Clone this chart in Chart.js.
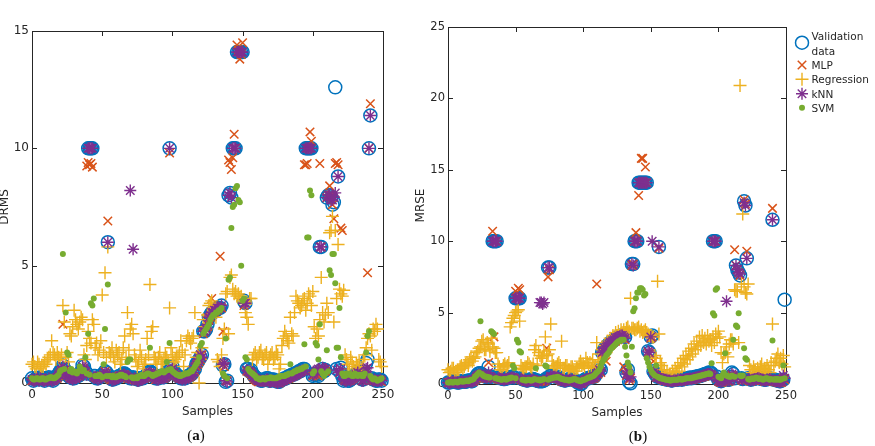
<!DOCTYPE html>
<html>
<head>
<meta charset="utf-8">
<script src="https://cdn.jsdelivr.net/npm/chart.js@4.4.0/dist/chart.umd.min.js"></script>
<style>
  html, body { margin: 0; padding: 0; background: #fff; }
  body { width: 875px; height: 446px; overflow: hidden; position: relative; font-family: 'DejaVu Sans', sans-serif; }
  #chartA, #chartB { position: absolute; top: 0; }
  #chartA { left: 0; }
  #chartB { left: 400px; }
  .panel-label { position: absolute; font-family: 'Liberation Serif', serif; font-size: 15px; color: #111; transform: translate(-50%, -50%); line-height: 1; }
  #legend { position: absolute; left: 790px; top: 0; width: 79px; height: 120px; overflow: hidden; }
  #legendIcons { position: absolute; left: 0; top: 0; }
  .legend-text { position: absolute; left: 21.5px; font-size: 10.5px; color: #262626; white-space: nowrap; transform: translateY(-50%); line-height: 1; }
</style>
</head>
<body>
<canvas id="chartA" width="400" height="446"></canvas>
<canvas id="chartB" width="475" height="446"></canvas>
<div class="panel-label" style="left:196px; top:435px;">(<b>a</b>)</div>
<div class="panel-label" style="left:638px; top:436px;">(<b>b</b>)</div>
<div id="legend"><canvas id="legendIcons" width="24" height="120"></canvas></div>
<script>
// sample index on the x axis
const samples = Array.from({ length: 250 }, (_, i) => i);
const xTicks = [0, 50, 100, 150, 200, 250];
const yTicksA = [0, 5, 10, 15];
const yTicksB = [0, 5, 10, 15, 20, 25];

const seriesNames = ['Validation data', 'MLP', 'Regression', 'kNN', 'SVM'];
const seriesColors = ['#0072BD', '#D95319', '#EDB120', '#7E2F8E', '#77AC30'];

// ---- (a) DRMS, one row = 10 samples ----
const validationA = [
  0.2, 0.1, 0.15, 0.2, 0.2, 0.15, 0.25, 0.2, 0.15, 0.1,
  0.2, 0.15, 0.25, 0.2, 0.15, 0.1, 0.2, 0.25, 0.3, 0.4,
  0.5, 0.6, 0.75, 0.6, 0.5, 0.4, 0.3, 0.25, 0.25, 0.2,
  0.2, 0.25, 0.3, 0.3, 0.35, 0.5, 0.75, 0.7, 0.5, 0.4,
  10, 10, 10, 10, 0.3, 0.3, 0.2, 0.2, 0.25, 0.3,
  0.3, 0.4, 0.5, 0.45, 6.0, 0.3, 0.2, 0.15, 0.15, 0.2,
  0.2, 0.25, 0.3, 0.3, 0.35, 0.4, 0.4, 0.35, 0.3, 0.25,
  0.2, 0.2, 0.25, 0.2, 0.2, 0.15, 0.15, 0.2, 0.2, 0.2,
  0.25, 0.3, 0.35, 0.45, 0.5, 0.45, 0.4, 0.3, 0.2, 0.2,
  0.2, 0.25, 0.3, 0.25, 0.25, 0.3, 0.35, 0.5, 10, 0.6,
  0.7, 0.5, 0.4, 0.35, 0.3, 0.25, 0.2, 0.2, 0.2, 0.2,
  0.25, 0.3, 0.3, 0.35, 0.4, 0.5, 0.6, 0.8, 0.9, 1.0,
  1.1, 1.2, 2.2, 2.2, 2.3, 2.5, 2.8, 2.9, 3.0, 3.0,
  3.1, 3.1, 3.2, 3.2, 3.2, 3.3, 0.75, 0.8, 0.05, 0.1,
  8.0, 8.1, 7.9, 10, 10, 10, 14.1, 14.1, 14.1, 14.1,
  14.1, 3.5, 3.4, 0.6, 0.6, 0.5, 0.55, 0.4, 0.3, 0.25,
  0.2, 0.15, 0.15, 0.1, 0.1, 0.15, 0.15, 0.2, 0.2, 0.1,
  0.1, 0.15, 0.15, 0.1, 0.1, 0.05, 0.05, 0.1, 0.15, 0.15,
  0.2, 0.2, 0.25, 0.3, 0.3, 0.35, 0.35, 0.4, 0.4, 0.45,
  0.5, 0.5, 0.55, 0.6, 0.6, 10, 10, 10, 10, 10,
  0.3, 0.35, 0.4, 0.35, 0.3, 5.8, 5.8, 0.6, 0.5, 0.55,
  7.9, 8.0, 8.0, 7.9, 7.6, 7.7, 12.6, 0.6, 8.8, 0.5,
  0.65, 0.3, 0.1, 0.15, 0.15, 0.1, 0.1, 0.15, 0.2, 0.25,
  0.3, 0.4, 0.5, 0.4, 0.2, 0.15, 0.15, 0.3, 0.85, 1.0,
  10, 11.4, 0.2, 0.15, 0.15, 0.1, 0.1, 0.15, 0.15, 0.1
];
const mlpA = [
  0.1, 0.1, 0.15, 0.1, 0.1, 0.15, 0.2, 0.1, 0.15, 0.1,
  0.1, 0.15, 0.2, 0.15, 0.1, 0.1, 0.15, 0.2, 0.2, 0.3,
  0.4, 0.5, 2.5, 0.5, 0.5, 0.35, 0.35, 0.25, 0.2, 0.2,
  0.25, 0.2, 0.3, 0.3, 0.3, 0.4, 0.6, 0.55, 0.4, 9.25,
  9.4, 9.3, 9.35, 9.2, 0.3, 0.25, 0.2, 0.25, 0.3, 0.25,
  0.25, 0.35, 0.5, 0.4, 6.9, 0.2, 0.15, 0.15, 0.15, 0.2,
  0.25, 0.25, 0.3, 0.3, 0.3, 0.35, 0.35, 0.3, 0.2, 0.2,
  0.2, 0.2, 0.2, 0.15, 0.15, 0.1, 0.1, 0.15, 0.2, 0.2,
  0.2, 0.25, 0.3, 0.35, 0.4, 0.35, 0.3, 0.25, 0.15, 0.15,
  0.2, 0.2, 0.25, 0.2, 0.2, 0.25, 0.3, 0.4, 9.8, 0.5,
  0.6, 0.45, 0.35, 0.3, 0.25, 0.2, 0.2, 0.2, 0.2, 0.2,
  0.2, 0.25, 0.25, 0.3, 0.35, 0.45, 0.5, 0.7, 0.8, 0.9,
  1.0, 1.2, 2.1, 2.2, 2.3, 2.4, 2.7, 2.8, 3.6, 3.0,
  3.0, 3.1, 3.1, 3.2, 5.4, 3.2, 2.2, 0.7, 0.1, 0.1,
  9.5, 9.4, 9.1, 9.6, 10.6, 10, 14.4, 14.2, 13.8, 14.0,
  14.5, 3.3, 3.4, 0.5, 0.5, 0.45, 0.4, 0.3, 0.2, 0.15,
  0.1, 0.05, 0.05, 0.1, 0.1, 0.05, 0.1, 0.1, 0.05, 0.05,
  0.05, 0.05, 0.1, 0.05, 0.05, 0.05, 0.0, 0.05, 0.1, 0.1,
  0.15, 0.15, 0.2, 0.2, 0.25, 0.3, 0.3, 0.35, 0.35, 0.4,
  0.45, 0.5, 0.5, 0.55, 9.3, 9.3, 9.35, 10.0, 10.7, 10.3,
  0.3, 0.35, 0.4, 0.35, 0.3, 9.35, 5.8, 0.6, 0.5, 0.5,
  7.9, 8.0, 8.4, 8.0, 7.6, 7.0, 9.35, 9.4, 9.3, 0.45,
  6.6, 6.5, 0.15, 0.1, 0.15, 0.1, 0.1, 0.15, 0.2, 0.25,
  0.3, 0.35, 0.4, 0.35, 0.2, 0.1, 0.1, 0.2, 0.6, 4.7,
  10, 11.9, 0.15, 0.1, 0.1, 0.1, 0.05, 0.1, 0.1, 0.05
];
const regressionA = [
  0.8, 0.9, 0.7, 0.6, 0.9, 0.8, 0.6, 0.7, 0.7, 0.9,
  0.8, 1.0, 1.1, 1.2, 1.8, 1.3, 1.2, 1.0, 1.3, 1.1,
  1.0, 1.2, 3.3, 2.6, 1.1, 1.3, 0.9, 2.1, 2.0, 2.4,
  3.1, 2.7, 2.5, 2.3, 2.6, 2.8, 2.7, 1.2, 1.0, 1.6,
  2.2, 1.9, 1.7, 2.7, 2.5, 1.5, 1.7, 1.2, 1.4, 1.8,
  3.75, 1.3, 4.7, 1.1, 5.8, 1.3, 1.2, 1.5, 1.1, 0.9,
  1.4, 1.2, 1.3, 0.8, 1.0, 1.5, 2.0, 1.1, 3.0, 1.4,
  2.3, 2.5, 2.1, 1.2, 1.0, 0.7, 0.9, 1.4, 1.1, 0.6,
  0.8, 1.0, 1.9, 1.2, 4.2, 2.2, 2.4, 1.1, 1.0, 0.8,
  1.1, 1.3, 0.9, 0.8, 1.0, 1.2, 1.1, 0.9, 3.2, 1.5,
  1.2, 0.9, 1.0, 1.1, 1.1, 1.3, 1.8, 1.4, 0.7, 1.2,
  1.8, 2.0, 1.9, 1.7, 1.9, 2.0, 3.0, 1.1, 1.3, 0.0,
  1.0, 1.5, 2.7, 2.4, 2.3, 2.9, 3.3, 3.4, 3.5, 3.2,
  3.0, 2.8, 1.0, 0.9, 0.7, 1.2, 1.9, 2.3, 3.8, 3.9,
  2.1, 4.5, 4.6, 4.0, 3.8, 3.9, 3.7, 3.8, 3.6, 3.7,
  3.5, 3.4, 3.0, 2.8, 2.5, 3.6, 3.6, 1.0, 1.2, 1.3,
  1.0, 1.1, 1.3, 1.4, 1.1, 1.0, 1.2, 1.3, 0.8, 1.1,
  1.2, 1.3, 1.0, 1.1, 1.3, 1.2, 0.6, 0.8, 1.6, 1.9,
  2.2, 2.0, 1.8, 1.7, 2.8, 2.1, 2.0, 3.0, 3.7, 3.5,
  3.4, 3.2, 3.3, 3.5, 3.6, 3.1, 3.4, 3.8, 3.7, 3.3,
  3.9, 2.4, 1.9, 2.3, 2.0, 2.7, 4.5, 3.0, 2.6, 2.9,
  3.4, 3.0, 6.4, 6.5, 7.1, 2.6, 6.5, 3.6, 5.9, 4.0,
  3.8, 3.7, 3.95, 1.2, 1.0, 0.8, 0.6, 1.1, 0.9, 0.7,
  0.5, 0.8, 0.7, 0.9, 0.4, 0.6, 1.0, 1.2, 1.5, 1.9,
  2.1, 2.0, 1.4, 2.3, 2.2, 2.5, 2.3, 1.0, 0.9, 0.7
];
const knnA = [
  0.15, 0.1, 0.1, 0.15, 0.2, 0.1, 0.2, 0.15, 0.1, 0.1,
  0.15, 0.1, 0.2, 0.15, 0.1, 0.1, 0.15, 0.2, 0.25, 0.35,
  0.45, 0.55, 0.7, 0.55, 0.45, 0.35, 0.3, 0.2, 0.2, 0.15,
  0.2, 0.2, 0.25, 0.3, 0.3, 0.45, 0.7, 0.65, 0.45, 0.35,
  10, 10, 10, 10, 0.25, 0.25, 0.2, 0.15, 0.2, 0.25,
  0.3, 0.35, 0.45, 0.4, 6.0, 0.25, 0.2, 0.1, 0.15, 0.15,
  0.2, 0.2, 0.25, 0.3, 0.3, 0.35, 0.35, 0.3, 0.25, 0.2,
  8.2, 0.15, 5.7, 0.2, 0.15, 0.1, 0.1, 0.15, 0.15, 0.2,
  0.2, 0.25, 0.3, 0.4, 0.45, 0.4, 0.35, 0.25, 0.2, 0.15,
  0.15, 0.2, 0.25, 0.25, 0.2, 0.25, 0.3, 0.45, 10, 0.55,
  0.6, 0.45, 0.35, 0.3, 0.25, 0.2, 0.2, 0.15, 0.2, 0.15,
  0.2, 0.25, 0.3, 0.3, 0.35, 0.45, 0.7, 0.8, 0.9, 1.0,
  1.2, 1.1, 2.2, 2.2, 2.3, 2.5, 2.8, 2.9, 3.0, 3.0,
  3.1, 3.1, 3.2, 3.2, 3.2, 3.3, 0.8, 0.85, 0.1, 0.05,
  8.0, 8.1, 7.9, 10, 10, 10, 14.1, 14.1, 14.1, 14.1,
  14.1, 3.4, 3.4, 0.55, 0.5, 0.5, 0.45, 0.35, 0.25, 0.2,
  0.15, 0.1, 0.1, 0.1, 0.1, 0.1, 0.1, 0.15, 0.15, 0.05,
  0.05, 0.1, 0.1, 0.05, 0.05, 0.0, 0.05, 0.05, 0.1, 0.1,
  0.15, 0.2, 0.2, 0.25, 0.25, 0.3, 0.3, 0.35, 0.35, 0.4,
  0.45, 0.45, 0.5, 0.55, 0.55, 10, 10, 10, 10, 10,
  0.35, 0.4, 0.5, 0.55, 0.6, 5.8, 5.8, 0.65, 0.6, 0.6,
  7.9, 8.0, 8.0, 7.8, 7.8, 7.9, 8.1, 0.55, 8.8, 0.45,
  0.6, 0.35, 0.15, 0.1, 0.1, 0.15, 0.15, 0.1, 0.15, 0.2,
  0.3, 0.35, 0.45, 0.35, 0.25, 0.1, 0.1, 0.2, 0.6, 0.65,
  10, 11.4, 0.15, 0.1, 0.15, 0.1, 0.1, 0.1, 0.15, 0.1
];
const svmA = [
  0.2, 0.15, 0.15, 0.2, 0.2, 0.15, 0.15, 0.2, 0.2, 0.15,
  0.15, 0.2, 0.2, 0.25, 0.25, 0.2, 0.2, 0.25, 0.3, 0.35,
  0.5, 0.55, 5.5, 0.6, 3.0, 1.3, 1.2, 0.5, 0.6, 0.45,
  0.5, 0.45, 0.4, 0.5, 0.7, 0.6, 0.5, 0.55, 1.1, 0.4,
  2.1, 0.35, 3.4, 3.3, 3.6, 0.3, 0.3, 0.3, 0.35, 0.3,
  0.25, 0.8, 2.3, 0.3, 4.2, 0.3, 0.3, 0.25, 0.3, 0.25,
  0.25, 0.3, 0.3, 0.35, 0.35, 0.3, 0.3, 0.25, 0.9, 1.0,
  1.0, 0.25, 0.2, 0.2, 0.25, 0.2, 0.3, 0.3, 0.35, 0.3,
  0.3, 0.35, 0.4, 0.4, 1.5, 0.35, 0.3, 0.35, 0.35, 0.4,
  0.4, 0.45, 0.5, 0.5, 0.45, 0.5, 0.9, 0.55, 1.7, 0.6,
  0.5, 0.45, 0.4, 0.35, 0.35, 0.3, 0.3, 0.35, 0.35, 0.4,
  0.4, 0.4, 0.45, 0.5, 0.5, 0.6, 0.7, 0.8, 0.9, 1.1,
  1.6, 1.7, 2.1, 2.2, 2.3, 2.4, 2.5, 2.7, 2.8, 2.9,
  2.9, 3.0, 3.0, 3.1, 3.1, 3.2, 0.4, 0.3, 1.9, 0.2,
  4.4, 4.5, 6.6, 7.5, 7.6, 8.3, 8.4, 7.8, 7.7, 5.0,
  3.5, 3.6, 1.1, 1.0, 0.6, 0.5, 0.45, 0.4, 0.35, 0.3,
  0.2, 0.2, 0.15, 0.15, 0.2, 0.2, 0.15, 0.2, 0.2, 0.2,
  0.25, 0.2, 0.2, 0.2, 0.2, 0.25, 0.25, 0.3, 0.3, 0.3,
  0.3, 0.35, 0.35, 0.4, 0.8, 0.4, 0.45, 0.5, 0.5, 0.55,
  0.55, 0.6, 0.6, 0.65, 1.65, 0.7, 6.2, 6.2, 8.2, 8.0,
  0.4, 0.5, 1.7, 1.6, 1.0, 2.5, 0.5, 0.4, 0.3, 0.4,
  1.4, 0.5, 4.8, 4.6, 5.5, 5.5, 4.25, 1.5, 1.5, 3.2,
  1.1, 0.4, 0.3, 0.3, 0.4, 0.35, 0.4, 0.35, 0.3, 0.3,
  0.4, 0.35, 0.3, 0.35, 0.35, 0.3, 0.3, 0.4, 1.3, 2.0,
  2.2, 0.3, 0.2, 0.15, 0.2, 0.15, 0.1, 0.15, 0.15, 0.2
];

// ---- (b) MRSE, one row = 10 samples ----
const validationB = [
  0.1, 0.1, 0.15, 0.2, 0.2, 0.15, 0.15, 0.1, 0.1, 0.15,
  0.2, 0.2, 0.15, 0.15, 0.2, 0.25, 0.25, 0.2, 0.2, 0.3,
  0.4, 0.55, 0.7, 0.75, 0.75, 0.7, 0.6, 0.55, 0.5, 0.5,
  1.2, 0.5, 0.5, 10, 10, 10, 10, 0.45, 0.45, 0.4,
  0.4, 0.35, 0.35, 0.4, 0.4, 0.45, 0.45, 0.5, 0.5, 0.45,
  6.0, 6.0, 6.0, 6.0, 0.4, 0.35, 0.3, 0.3, 0.25, 0.25,
  0.3, 0.3, 0.35, 0.35, 0.3, 0.25, 0.25, 0.2, 0.2, 0.2,
  0.2, 0.25, 0.3, 0.4, 8.15, 8.15, 0.6, 0.6, 0.55, 0.55,
  0.5, 0.5, 0.45, 0.4, 0.3, 0.3, 0.25, 0.25, 0.3, 0.3,
  0.35, 0.35, 0.3, 0.3, 0.25, 0.2, 0.1, 0.1, 0.0, 0.05,
  0.2, 0.3, 0.35, 0.4, 0.4, 0.45, 0.45, 0.5, 0.5, 0.6,
  0.8, 0.9, 1.1, 1.0, 2.2, 2.3, 2.5, 2.6, 2.7, 2.8,
  2.9, 2.95, 3.0, 3.1, 3.2, 3.25, 3.3, 3.35, 3.4, 3.4,
  3.4, 3.3, 0.8, 1.0, 0.15, 0.05, 8.4, 8.4, 10, 10,
  10, 14.1, 14.1, 14.1, 14.1, 14.1, 14.1, 14.1, 2.3, 2.2,
  3.3, 3.4, 0.9, 0.75, 0.6, 0.5, 9.6, 0.45, 0.4, 0.4,
  0.35, 0.35, 0.3, 0.3, 0.3, 0.25, 0.25, 0.3, 0.3, 0.3,
  0.3, 0.35, 0.35, 0.3, 0.35, 0.35, 0.4, 0.4, 0.4, 0.45,
  0.4, 0.45, 0.45, 0.5, 0.5, 0.55, 0.55, 0.6, 0.6, 0.65,
  0.7, 0.7, 0.75, 0.8, 0.8, 0.75, 10, 10, 10, 0.5,
  0.3, 0.25, 0.2, 0.25, 0.35, 0.4, 0.4, 0.3, 0.3, 0.5,
  0.8, 0.7, 0.4, 8.3, 8.0, 7.8, 7.6, 0.4, 0.35, 12.8,
  12.5, 8.8, 0.4, 0.35, 0.3, 0.35, 0.35, 0.4, 0.4, 0.45,
  0.45, 0.4, 0.35, 0.35, 0.3, 0.3, 0.35, 0.35, 0.4, 0.35,
  11.5, 0.3, 0.3, 0.25, 0.25, 0.2, 0.2, 0.25, 0.3, 5.9
];
const mlpB = [
  0.1, 0.1, 0.15, 0.1, 0.1, 0.15, 0.1, 0.1, 0.15, 0.1,
  0.1, 0.15, 0.15, 0.1, 0.15, 0.2, 0.15, 0.15, 0.2, 0.2,
  0.3, 0.4, 0.5, 0.6, 0.6, 0.55, 0.5, 0.45, 0.4, 0.4,
  1.5, 0.4, 0.4, 10.7, 3.3, 10, 10, 0.35, 0.35, 0.3,
  0.3, 0.3, 0.3, 0.35, 0.35, 0.4, 0.4, 0.4, 0.45, 0.4,
  6.5, 6.0, 6.7, 6.6, 0.3, 0.3, 0.25, 0.2, 0.2, 0.2,
  0.2, 0.25, 0.3, 0.25, 0.2, 0.2, 0.2, 0.15, 0.2, 0.2,
  0.2, 0.2, 0.25, 2.5, 7.5, 8.0, 0.5, 0.45, 0.45, 0.4,
  0.4, 0.4, 0.35, 0.3, 0.2, 0.2, 0.2, 0.2, 0.25, 0.25,
  0.3, 0.25, 0.2, 0.2, 0.15, 0.15, 0.1, 0.05, 0.05, 0.05,
  0.15, 0.25, 0.3, 0.3, 0.3, 0.35, 0.35, 0.4, 0.4, 0.5,
  7.0, 0.7, 0.9, 0.8, 2.0, 2.2, 2.3, 1.6, 2.6, 2.7,
  2.7, 2.8, 2.9, 3.0, 3.0, 3.2, 3.2, 3.3, 3.3, 3.2,
  1.2, 3.1, 0.6, 0.8, 0.3, 0.4, 8.3, 8.4, 10, 10.6,
  10, 13.2, 14.1, 15.8, 15.8, 14.1, 15.2, 14.1, 2.2, 2.1,
  3.2, 3.3, 1.6, 0.7, 0.5, 0.45, 9.5, 0.4, 0.35, 0.3,
  0.25, 0.25, 0.2, 0.2, 0.2, 0.15, 0.15, 0.2, 0.2, 0.2,
  0.2, 0.25, 0.25, 0.2, 0.25, 0.25, 0.3, 0.3, 0.3, 0.35,
  0.3, 0.35, 0.35, 0.4, 0.4, 0.45, 0.45, 0.5, 0.5, 0.55,
  0.55, 0.6, 0.6, 0.65, 0.65, 0.6, 10, 10, 10, 0.4,
  0.2, 0.15, 0.1, 0.15, 0.25, 0.3, 0.3, 0.2, 0.2, 0.4,
  0.6, 0.5, 9.4, 8.3, 8.0, 7.8, 7.6, 0.3, 0.25, 12.9,
  12.6, 9.3, 0.3, 0.25, 0.2, 0.25, 0.25, 0.3, 0.3, 0.35,
  0.35, 0.3, 0.25, 0.25, 0.2, 0.2, 0.25, 0.25, 0.3, 0.25,
  12.3, 0.2, 0.2, 0.15, 0.15, 0.1, 0.1, 0.15, 0.4, 0.3
];
const regressionB = [
  1.0, 0.8, 0.9, 1.1, 1.1, 0.8, 0.8, 1.0, 1.0, 1.2,
  1.3, 1.1, 1.2, 1.4, 1.5, 1.3, 1.7, 1.9, 1.6, 1.8,
  1.9, 2.2, 2.3, 2.5, 2.6, 3.0, 3.1, 2.4, 2.4, 2.9,
  2.8, 2.3, 3.2, 2.6, 2.5, 2.2, 2.2, 1.4, 1.2, 1.0,
  1.0, 1.3, 1.4, 1.2, 1.3, 1.5, 4.0, 4.3, 4.6, 4.8,
  5.0, 5.1, 5.2, 4.4, 1.3, 1.1, 1.0, 1.2, 1.2, 1.5,
  1.4, 1.2, 1.1, 1.4, 2.4, 2.7, 1.3, 2.2, 2.0, 1.8,
  1.9, 2.3, 3.3, 2.0, 2.1, 2.4, 4.2, 1.6, 1.3, 1.1,
  1.2, 1.4, 1.5, 1.3, 3.0, 1.1, 1.1, 1.3, 1.3, 1.0,
  1.0, 1.2, 1.2, 0.9, 0.9, 1.1, 1.1, 1.4, 1.6, 1.3,
  1.4, 1.2, 1.8, 1.5, 1.2, 1.5, 1.1, 1.7, 1.2, 1.3,
  2.9, 1.6, 2.1, 1.5, 2.4, 1.9, 2.7, 2.2, 3.0, 2.5,
  3.2, 2.8, 3.4, 3.0, 3.6, 3.3, 3.7, 3.4, 3.8, 3.5,
  3.8, 3.6, 3.9, 4.0, 3.7, 6.0, 3.9, 3.9, 3.8, 3.8,
  3.9, 4.0, 3.7, 3.8, 3.6, 3.7, 3.8, 3.6, 3.5, 3.4,
  3.4, 3.3, 3.3, 2.0, 1.8, 7.2, 3.5, 1.5, 1.3, 1.0,
  1.0, 0.6, 0.8, 0.4, 0.6, 0.5, 0.9, 0.6, 1.1, 0.8,
  1.3, 0.9, 1.5, 1.2, 1.8, 1.4, 2.0, 1.7, 2.3, 1.9,
  2.5, 2.1, 2.8, 2.4, 3.0, 2.6, 3.3, 2.7, 3.4, 2.9,
  3.2, 2.8, 3.4, 3.0, 3.1, 2.7, 3.3, 2.9, 3.5, 3.2,
  3.7, 3.3, 2.2, 1.5, 2.1, 2.2, 2.6, 1.9, 2.8, 3.1,
  3.1, 2.8, 6.6, 6.5, 6.5, 2.9, 20.9, 7.0, 11.9, 6.8,
  6.4, 6.3, 7.0, 1.3, 1.0, 0.8, 1.2, 1.0, 0.7, 1.1,
  0.9, 1.2, 1.4, 0.8, 1.1, 0.9, 1.3, 1.0, 0.8, 1.5,
  4.2, 1.3, 1.6, 1.8, 2.1, 1.5, 1.8, 1.4, 2.0, 1.2
];
const knnB = [
  0.1, 0.05, 0.1, 0.15, 0.15, 0.1, 0.1, 0.1, 0.05, 0.1,
  0.15, 0.15, 0.1, 0.1, 0.15, 0.2, 0.2, 0.15, 0.15, 0.25,
  0.35, 0.5, 0.6, 0.65, 0.65, 0.6, 0.55, 0.5, 0.45, 0.45,
  0.8, 0.45, 0.45, 10, 10, 10, 10, 0.4, 0.4, 0.35,
  0.35, 0.3, 0.3, 0.35, 0.35, 0.4, 0.4, 0.45, 0.45, 0.4,
  6.0, 6.0, 6.0, 6.0, 0.35, 0.3, 0.25, 0.25, 0.2, 0.2,
  0.25, 0.25, 0.3, 0.3, 0.25, 0.2, 0.2, 0.15, 5.7, 5.7,
  5.6, 5.7, 0.25, 0.35, 8.15, 8.15, 0.55, 0.5, 0.5, 0.5,
  0.45, 0.45, 0.4, 0.35, 0.25, 0.25, 0.2, 0.2, 0.25, 0.25,
  0.3, 0.3, 0.25, 0.25, 0.2, 0.15, 0.1, 0.05, 0.05, 0.0,
  0.15, 0.25, 0.3, 0.35, 0.35, 0.4, 0.4, 0.45, 0.45, 0.55,
  0.7, 0.8, 1.0, 0.9, 2.2, 2.3, 2.5, 2.6, 2.7, 2.8,
  2.9, 2.95, 3.0, 3.1, 3.2, 3.25, 3.3, 3.35, 3.4, 3.4,
  3.3, 3.2, 0.7, 0.9, 0.4, 0.5, 8.4, 8.3, 10, 10,
  10, 14.1, 14.1, 14.1, 14.1, 14.1, 14.1, 14.1, 2.3, 2.2,
  3.3, 10.0, 0.8, 0.7, 0.5, 0.45, 9.6, 0.4, 0.35, 0.35,
  0.3, 0.3, 0.25, 0.25, 0.25, 0.2, 0.2, 0.25, 0.25, 0.25,
  0.25, 0.3, 0.3, 0.25, 0.3, 0.3, 0.35, 0.35, 0.35, 0.4,
  0.35, 0.4, 0.4, 0.45, 0.45, 0.5, 0.5, 0.55, 0.55, 0.6,
  0.6, 0.65, 0.7, 0.7, 0.7, 0.65, 10, 10, 10, 0.45,
  0.25, 0.2, 0.15, 0.2, 0.3, 0.35, 5.8, 0.25, 0.25, 0.45,
  0.7, 0.6, 0.35, 8.3, 8.0, 7.8, 7.7, 0.35, 0.3, 12.7,
  12.5, 8.8, 0.35, 0.3, 0.25, 0.3, 0.3, 0.35, 0.35, 0.4,
  0.4, 0.35, 0.3, 0.3, 0.25, 0.25, 0.3, 0.3, 0.35, 0.3,
  11.5, 0.25, 0.25, 0.2, 0.2, 0.15, 0.15, 0.2, 0.6, 0.4
];
const svmB = [
  0.1, 0.1, 0.15, 0.1, 0.1, 0.15, 0.15, 0.1, 0.15, 0.2,
  0.2, 0.15, 0.2, 0.2, 0.25, 0.2, 0.25, 0.3, 0.3, 0.35,
  0.5, 0.6, 0.7, 0.8, 4.4, 0.7, 0.6, 0.55, 0.5, 0.5,
  0.45, 0.45, 3.7, 3.6, 3.5, 0.4, 0.4, 0.35, 0.35, 0.3,
  0.3, 0.35, 0.35, 0.3, 0.35, 0.4, 0.4, 0.45, 1.3, 1.1,
  0.4, 3.1, 2.9, 2.3, 2.2, 0.3, 0.3, 0.25, 0.25, 0.3,
  0.3, 0.25, 0.25, 0.3, 0.35, 1.1, 0.3, 0.3, 0.25, 0.3,
  0.3, 0.35, 1.3, 1.2, 0.3, 0.35, 0.4, 0.4, 0.45, 0.45,
  0.45, 0.5, 0.45, 0.4, 0.35, 0.35, 0.3, 0.3, 0.3, 0.25,
  0.25, 0.3, 0.3, 0.35, 0.35, 0.3, 0.25, 0.25, 0.2, 0.25,
  0.3, 0.3, 0.35, 0.4, 0.45, 0.45, 0.5, 0.55, 0.6, 0.7,
  0.8, 0.9, 1.0, 1.2, 1.5, 1.7, 1.8, 2.0, 2.1, 2.2,
  2.4, 2.5, 2.6, 2.7, 2.8, 2.9, 3.0, 3.0, 3.1, 3.1,
  3.1, 2.6, 2.0, 1.5, 1.2, 0.8, 2.6, 5.1, 5.3, 6.0,
  6.4, 6.4, 6.7, 6.7, 6.6, 6.2, 6.3, 1.8, 1.5, 1.2,
  1.0, 0.8, 0.7, 0.6, 1.3, 0.5, 0.45, 0.4, 0.4, 0.35,
  0.35, 0.3, 0.3, 0.3, 0.25, 0.25, 0.3, 0.3, 0.3, 0.3,
  0.3, 0.35, 0.35, 0.3, 0.35, 0.35, 0.4, 0.4, 0.4, 0.4,
  0.4, 0.45, 0.45, 0.5, 0.5, 0.55, 0.55, 0.6, 0.6, 0.65,
  0.65, 0.7, 0.7, 0.75, 0.7, 1.45, 4.95, 4.8, 6.6, 6.7,
  0.5, 0.45, 0.4, 0.6, 0.8, 2.15, 0.6, 0.55, 0.5, 0.5,
  0.6, 3.1, 0.5, 4.1, 4.0, 4.95, 0.6, 0.55, 0.6, 2.5,
  1.8, 1.7, 0.35, 0.3, 0.35, 0.4, 0.35, 0.4, 0.45, 0.4,
  0.35, 0.4, 0.35, 0.3, 0.35, 0.4, 0.4, 0.35, 0.3, 0.35,
  3.05, 0.3, 0.35, 0.3, 0.35, 0.3, 0.3, 0.35, 1.3, 0.4
];

// marker look for each series, MATLAB style
const markers = [
  { pointStyle: 'circle', radius: 6.5, borderWidth: 1.5, filled: false, order: 5 },
  { pointStyle: 'crossRot', radius: 6, borderWidth: 1.5, filled: false, order: 4 },
  { pointStyle: 'cross', radius: 6.5, borderWidth: 1.4, filled: false, order: 3 },
  { pointStyle: 'star', radius: 6, borderWidth: 1.4, filled: false, order: 2 },
  { pointStyle: 'circle', radius: 3, borderWidth: 0, filled: true, order: 1 }
];

const axisColor = '#262626';

// box around the axes with inward ticks on all four sides
const boxPlugin = {
  id: 'box',
  beforeDatasetsDraw(chart) {
    const { ctx, chartArea: a, scales: { x, y } } = chart;
    const len = 5;
    ctx.save();
    ctx.strokeStyle = axisColor;
    ctx.lineWidth = 1;
    ctx.strokeRect(Math.round(a.left) + 0.5, Math.round(a.top) + 0.5,
      Math.round(a.right - a.left), Math.round(a.bottom - a.top));
    ctx.beginPath();
    x.ticks.forEach(t => {
      const px = Math.round(x.getPixelForValue(t.value)) + 0.5;
      ctx.moveTo(px, a.bottom); ctx.lineTo(px, a.bottom - len);
      ctx.moveTo(px, a.top); ctx.lineTo(px, a.top + len);
    });
    y.ticks.forEach(t => {
      const py = Math.round(y.getPixelForValue(t.value)) + 0.5;
      ctx.moveTo(a.left, py); ctx.lineTo(a.left + len, py);
      ctx.moveTo(a.right, py); ctx.lineTo(a.right - len, py);
    });
    ctx.stroke();
    ctx.restore();
  }
};

function makeDatasets(seriesValues) {
  return seriesValues.map((values, k) => {
    const m = markers[k];
    return {
      label: seriesNames[k],
      data: samples.map((x, i) => ({ x: x, y: values[i] })),
      pointStyle: m.pointStyle,
      pointRadius: m.radius,
      pointBorderWidth: m.borderWidth,
      pointBorderColor: seriesColors[k],
      pointBackgroundColor: m.filled ? seriesColors[k] : 'rgba(0,0,0,0)',
      showLine: false,
      order: m.order,
      clip: false
    };
  });
}

function makeChart(id, seriesValues, yTicks, yTitle, opts) {
  const ctx = document.getElementById(id).getContext('2d');
  return new Chart(ctx, {
    type: 'scatter',
    data: { datasets: makeDatasets(seriesValues) },
    options: {
      responsive: false,
      animation: false,
      events: [],
      layout: { padding: opts.padding },
      plugins: { legend: { display: false }, tooltip: { enabled: false } },
      scales: {
        x: {
          type: 'linear',
          min: xTicks[0],
          max: xTicks[xTicks.length - 1],
          grid: { display: false, drawTicks: false },
          border: { display: false },
          ticks: { padding: 5, color: axisColor, font: { size: opts.tickSize }, maxRotation: 0 },
          afterBuildTicks: s => { s.ticks = xTicks.map(v => ({ value: v })); },
          afterFit: s => { s.height = opts.xHeight; },
          title: { display: true, text: 'Samples', color: axisColor, font: { size: 12 }, padding: { top: 0, bottom: opts.xTitlePad } }
        },
        y: {
          type: 'linear',
          min: yTicks[0],
          max: yTicks[yTicks.length - 1],
          grid: { display: false, drawTicks: false },
          border: { display: false },
          ticks: { padding: 3, color: axisColor, font: { size: opts.tickSize } },
          afterBuildTicks: s => { s.ticks = yTicks.map(v => ({ value: v })); },
          afterFit: s => { s.width = opts.yWidth; },
          title: { display: true, text: yTitle, color: axisColor, font: { size: 12 }, padding: { top: opts.yTitlePad, bottom: 0 } }
        }
      }
    },
    plugins: [boxPlugin]
  });
}

Chart.defaults.font.family = "'DejaVu Sans', sans-serif";

makeChart('chartA', [validationA, mlpA, regressionA, knnA, svmA], yTicksA, 'DRMS', {
  padding: { left: 0, top: 31, right: 17, bottom: 22 },
  xHeight: 41, yWidth: 32, tickSize: 12, xTitlePad: 5, yTitlePad: -2
});

makeChart('chartB', [validationB, mlpB, regressionB, knnB, svmB], yTicksB, 'MRSE', {
  padding: { left: 0, top: 27, right: 89, bottom: 22 },
  xHeight: 40, yWidth: 48, tickSize: 11.5, xTitlePad: 4, yTitlePad: 14
});

// legend for panel (b)
const legend = document.getElementById('legend');
const lctx = document.getElementById('legendIcons').getContext('2d');
const iconY = [42.7, 65, 79.3, 93.7, 107.7];
const textLines = [['Validation', 'data'], ['MLP'], ['Regression'], ['kNN'], ['SVM']];
const textY = [[36, 50.7], [65], [79.3], [93.7], [107.7]];
markers.forEach((m, k) => {
  lctx.save();
  lctx.strokeStyle = seriesColors[k];
  lctx.fillStyle = m.filled ? seriesColors[k] : 'rgba(0,0,0,0)';
  lctx.lineWidth = m.borderWidth;
  Chart.helpers.drawPoint(lctx, { pointStyle: m.pointStyle, radius: m.radius, borderWidth: m.borderWidth, rotation: 0 }, 12, iconY[k]);
  lctx.restore();
  textLines[k].forEach((line, j) => {
    const el = document.createElement('div');
    el.className = 'legend-text';
    el.style.top = textY[k][j] + 'px';
    el.textContent = line;
    legend.appendChild(el);
  });
});
</script>
</body>
</html>
